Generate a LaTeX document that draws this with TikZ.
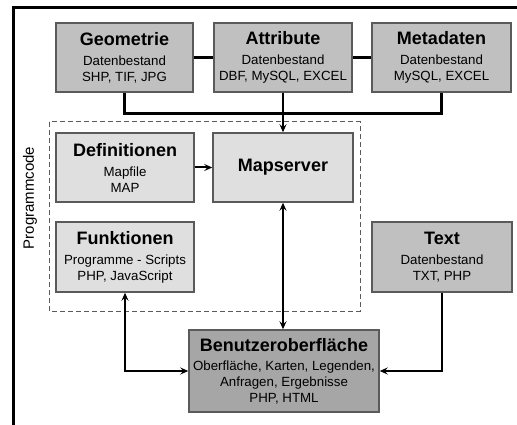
\documentclass[tikz,border=0pt]{standalone}
\usepackage{fontspec}
\setmainfont{Liberation Sans}
\usetikzlibrary{arrows.meta}
\definecolor{boxmid}{HTML}{C0C0C0}
\definecolor{boxlight}{HTML}{DFDFDF}
\definecolor{boxdark}{HTML}{A6A6A6}
\definecolor{edgegrey}{HTML}{5A5A5A}
\newcommand\boxtitle[1]{{\fontsize{18}{20}\selectfont\bfseries #1}}
\begin{document}
\begin{tikzpicture}[x=1pt,y=-1pt,
  box/.style={draw=edgegrey, line width=1.5pt, inner sep=0pt, align=center,
    font=\fontsize{13.3}{16}\selectfont},
  conn/.style={line width=2pt, draw=black},
  thickconn/.style={line width=3pt, draw=black},
  tip/.style={-{Stealth[length=8pt,width=7pt,inset=3pt]}},
  bitip/.style={{Stealth[length=8pt,width=7pt,inset=3pt]}-{Stealth[length=8pt,width=7pt,inset=3pt]}}]
\useasboundingbox (0,0) rectangle (517,425);
\draw[line width=3pt] (13.5,425) -- (13.5,7.5) -- (517,7.5);

% dashed program-code region
\draw[dashed, dash pattern=on 5pt off 3pt, draw=edgegrey, line width=1pt] (49,122) rectangle (360,311);
\node[rotate=90, font=\fontsize{15}{16}\selectfont] (pc) at (30,198) {Programmcode};

% top data boxes
\node[box, fill=boxmid, minimum width=137pt, minimum height=69pt] (geo) at (124.5,57.5)
  {\boxtitle{Geometrie}\\[4pt] Datenbestand\\ SHP, TIF, JPG};
\node[box, fill=boxmid, minimum width=138pt, minimum height=69pt] (attr) at (283,57.5)
  {\boxtitle{Attribute}\\[4pt] Datenbestand\\ DBF, MySQL, EXCEL};
\node[box, fill=boxmid, minimum width=139pt, minimum height=69pt] (meta) at (441.5,57.5)
  {\boxtitle{Metadaten}\\[4pt] Datenbestand\\ MySQL, EXCEL};

% program code boxes
\node[box, fill=boxlight, minimum width=138pt, minimum height=69pt] (def) at (125,167.5)
  {\boxtitle{Definitionen}\\[4pt] Mapfile\\ MAP};
\node[box, fill=boxlight, minimum width=140pt, minimum height=69pt] (map) at (283,167.5)
  {\boxtitle{Mapserver}};
\node[box, fill=boxlight, minimum width=138pt, minimum height=70pt] (funk) at (125,257)
  {\boxtitle{Funktionen}\\[4pt] Programme - Scripts\\ PHP, JavaScript};
\node[box, fill=boxmid, minimum width=140pt, minimum height=70pt] (text) at (442,257)
  {\boxtitle{Text}\\[4pt] Datenbestand\\ TXT, PHP};

% user interface
\node[box, fill=boxdark, minimum width=190pt, minimum height=82pt] (benu) at (284,371)
  {\boxtitle{Benutzeroberfläche}\\[3pt] Oberfläche, Karten, Legenden,\\ Anfragen, Ergebnisse\\ PHP, HTML};

% connectors
\draw[thickconn] (geo) -- (attr);
\draw[thickconn] (attr) -- (meta);
\draw[conn, line width=2.5pt] (geo.south) -- ++(0,21) -| (meta.south);
\draw[conn, tip] (attr.south) -- (attr.south |- map.north);
\draw[conn, tip] (def.east) -- (map.west);
\draw[conn, bitip] (map.south) -- (map.south |- benu.north);
\draw[conn, line width=1.5pt, bitip] (funk.south) |- (benu.west);
\draw[conn, line width=2.5pt, tip] (text.south) |- (benu.east);
\end{tikzpicture}
\end{document}
